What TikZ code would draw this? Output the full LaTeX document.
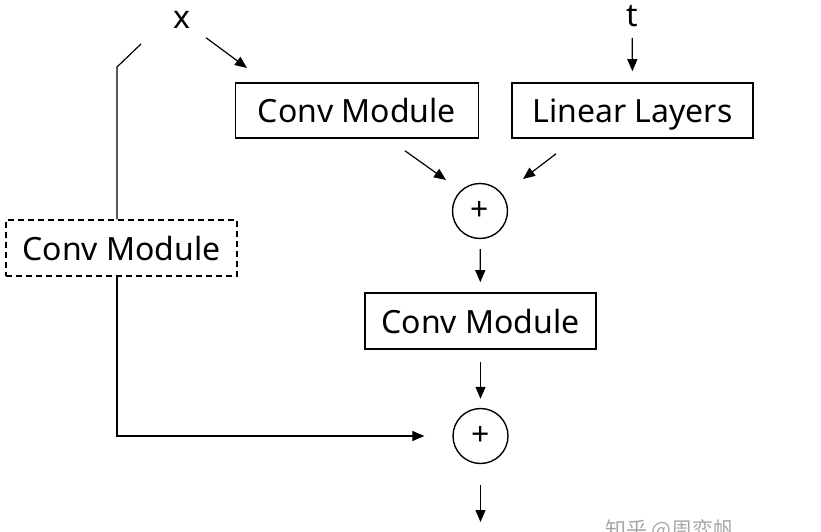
\documentclass[tikz,border=0pt]{standalone}
\usepackage{fontspec}
\setmainfont{Noto Sans}
\newfontfamily\cjkfont{Noto Sans CJK SC}
\usetikzlibrary{arrows.meta}

\begin{document}
\begin{tikzpicture}[x=1pt, y=-1pt, every node/.style={font=\fontsize{32}{38}\selectfont}]
            % Define styles
            \tikzstyle{module} = [rectangle, draw=black, line width=1.6pt, minimum height=55pt, inner sep=0pt, text height=24pt, text depth=0pt, text centered]
            \tikzstyle{skipbox} = [module, dash pattern=on 6pt off 4pt, line width=1.4pt]
            \tikzstyle{adder} = [circle, draw=black, line width=1.4pt, minimum size=55pt, inner sep=0pt]
            \tikzstyle{arrow} = [line width=1.2pt,->,>={Stealth[inset=0pt,length=12pt,width=10pt]}]
            \tikzstyle{wire} = [line width=1.2pt]

            \useasboundingbox (0,0) rectangle (821,532);

            % Inputs
            \node (x) at (182,20) {x};
            \node (t) at (632,16) {t};

            % Main branch
            \node (conv) [module, minimum width=243pt] at (357,110.5) {Conv Module};
            \node (linear) [module, minimum width=241pt] at (632.5,110.5) {Linear Layers};
            \node (add1) [adder] at (480,211) {+};
            \node (fuse) [module, minimum width=231pt, minimum height=56pt] at (480.5,321) {Conv Module};
            \node (add2) [adder] at (480.5,436) {+};

            % Skip branch
            \node (skip) [skipbox, minimum width=231pt, minimum height=56pt] at (121.5,248) {Conv Module};

            % Free ends
            \coordinate (xs) at (141,44);
            \coordinate (bend) at (117,67);
            \coordinate (xend) at (247,68);
            \coordinate (out) at (480.5,522);

            % Watermark
            \node (mark) [anchor=north west, text=gray!70, font=\cjkfont\fontsize{21}{25}\selectfont, inner sep=0pt] at (605,519) {知乎 @周弈帆};

            % Arrows
            \draw [arrow, shorten <=15pt] (x) -- (xend);
            \draw [arrow, shorten <=22pt, shorten >=11pt] (t.center) -- (linear.north);
            \draw [arrow] ([shift={(48,12)}]conv.south) -- ([shift={(-34,-31)}]add1.center);
            \draw [arrow] ([shift={(-76.5,15)}]linear.south) -- ([shift={(43,-32)}]add1.center);
            \draw [arrow, shorten <=10pt, shorten >=10pt] (add1) -- (fuse);
            \draw [arrow, shorten <=12pt, shorten >=9pt] (fuse) -- (add2);
            \draw [arrow, shorten <=21pt] (add2) -- (out);
            \draw [wire] (xs) -- (bend) -- (bend |- skip.north);
            \draw [arrow, shorten >=28pt] (bend |- skip.south) |- (add2);
        \end{tikzpicture}
\end{document}
